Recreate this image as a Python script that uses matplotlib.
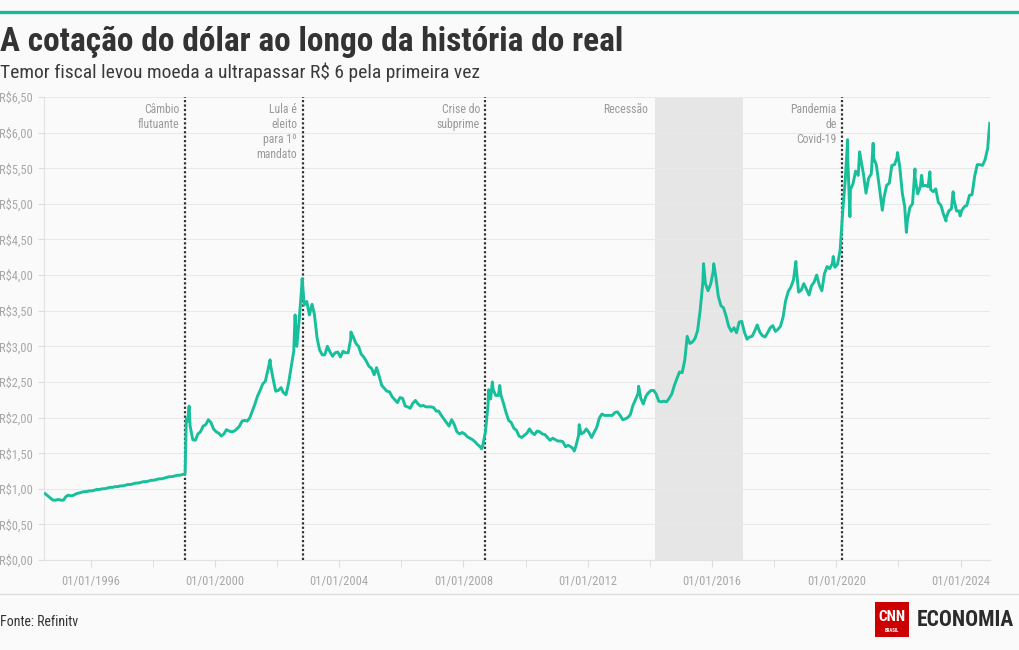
"""
Cotação do dólar (R$ por US$) ao longo da história do real, 1994-2024.
Valores lidos do gráfico original da CNN Brasil (fonte: Refinitiv).
"""

import matplotlib
matplotlib.use("Agg")
import matplotlib.pyplot as plt
import matplotlib.dates as mdates
from matplotlib import font_manager
from matplotlib.patches import Rectangle
import pandas as pd

OUT_FILE = "out.png"

# Cotação média de cada mês, jul/1994 a nov/2024 (R$)
RATE_MONTHLY = [
    0.93, 0.90, 0.87, 0.84, 0.84, 0.85,                                # 1994
    0.84, 0.84, 0.89, 0.91, 0.90, 0.91, 0.93, 0.94, 0.95, 0.96, 0.96, 0.97,  # 1995
    0.97, 0.98, 0.99, 0.99, 1.00, 1.00, 1.01, 1.02, 1.02, 1.03, 1.03, 1.04,  # 1996
    1.04, 1.05, 1.06, 1.06, 1.07, 1.08, 1.08, 1.09, 1.10, 1.10, 1.11, 1.12,  # 1997
    1.12, 1.13, 1.14, 1.14, 1.15, 1.16, 1.17, 1.17, 1.18, 1.19, 1.19, 1.20,  # 1998
    1.21, 1.95, 1.88, 1.69, 1.68, 1.77, 1.80, 1.88, 1.90, 1.97, 1.93, 1.84,  # 1999
    1.80, 1.78, 1.74, 1.77, 1.83, 1.81, 1.80, 1.81, 1.84, 1.88, 1.95, 1.96,  # 2000
    1.95, 2.00, 2.09, 2.19, 2.30, 2.38, 2.47, 2.51, 2.67, 2.74, 2.54, 2.37,  # 2001
    2.38, 2.42, 2.35, 2.32, 2.48, 2.71, 2.93, 3.11, 3.34, 3.80, 3.58, 3.63,  # 2002
    3.44, 3.59, 3.45, 3.12, 2.95, 2.88, 2.88, 3.00, 2.92, 2.86, 2.91, 2.92,  # 2003
    2.85, 2.93, 2.91, 2.91, 3.10, 3.13, 3.04, 3.00, 2.89, 2.85, 2.79, 2.72,  # 2004
    2.69, 2.60, 2.70, 2.58, 2.45, 2.41, 2.37, 2.36, 2.29, 2.25, 2.21, 2.28,  # 2005
    2.27, 2.16, 2.15, 2.13, 2.20, 2.24, 2.19, 2.16, 2.17, 2.15, 2.15, 2.15,  # 2006
    2.14, 2.09, 2.09, 2.03, 1.98, 1.93, 1.88, 1.97, 1.90, 1.80, 1.77, 1.79,  # 2007
    1.77, 1.73, 1.71, 1.69, 1.66, 1.62, 1.59, 1.61, 1.80, 2.17, 2.26, 2.39,  # 2008
    2.31, 2.31, 2.32, 2.20, 2.07, 1.96, 1.93, 1.85, 1.82, 1.74, 1.72, 1.75,  # 2009
    1.78, 1.84, 1.79, 1.76, 1.81, 1.80, 1.77, 1.76, 1.72, 1.68, 1.71, 1.69,  # 2010
    1.67, 1.67, 1.66, 1.59, 1.61, 1.59, 1.56, 1.60, 1.75, 1.77, 1.79, 1.84,  # 2011
    1.79, 1.72, 1.79, 1.86, 1.99, 2.05, 2.03, 2.03, 2.03, 2.03, 2.07, 2.08,  # 2012
    2.03, 1.97, 1.98, 2.00, 2.04, 2.17, 2.25, 2.34, 2.27, 2.19, 2.30, 2.35,  # 2013
    2.38, 2.38, 2.33, 2.23, 2.22, 2.23, 2.22, 2.27, 2.33, 2.45, 2.55, 2.64,  # 2014
    2.63, 2.81, 3.14, 3.04, 3.06, 3.11, 3.22, 3.51, 3.90, 3.88, 3.78, 3.87,  # 2015
    4.05, 3.97, 3.70, 3.57, 3.54, 3.42, 3.28, 3.21, 3.26, 3.19, 3.34, 3.35,  # 2016
    3.20, 3.10, 3.13, 3.14, 3.21, 3.30, 3.20, 3.15, 3.13, 3.19, 3.26, 3.29,  # 2017
    3.21, 3.24, 3.28, 3.41, 3.64, 3.77, 3.83, 3.93, 4.12, 3.76, 3.79, 3.88,  # 2018
    3.80, 3.72, 3.85, 3.90, 4.00, 3.86, 3.78, 4.02, 4.12, 4.09, 4.16, 4.11,  # 2019
    4.15, 4.35, 4.87, 5.33, 5.64, 5.20, 5.28, 5.46, 5.40, 5.63, 5.42, 5.15,  # 2020
    5.36, 5.42, 5.64, 5.55, 5.29, 5.00, 5.09, 5.26, 5.29, 5.54, 5.55, 5.65,  # 2021
    5.53, 5.15, 4.96, 4.76, 4.95, 5.00, 5.37, 5.14, 5.24, 5.25, 5.26, 5.24,  # 2022
    5.20, 5.17, 5.21, 5.02, 4.98, 4.85, 4.80, 4.90, 4.93, 5.06, 4.90, 4.90,  # 2023
    4.91, 4.96, 4.98, 5.12, 5.13, 5.39, 5.55, 5.55, 5.54, 5.62, 5.78,        # 2024
]

# Máximas e mínimas pontuais que se destacam no gráfico
PEAK_DATES = [
    "1999-01-29", "1999-03-03", "2001-10-10", "2002-07-31", "2002-08-20",
    "2002-10-22", "2004-05-17", "2008-08-01", "2008-10-22", "2008-12-05",
    "2009-03-02", "2011-07-26", "2011-09-22", "2013-08-21", "2015-09-23",
    "2016-01-21", "2018-09-13", "2019-11-26", "2020-05-13", "2020-06-09",
    "2020-10-01", "2021-03-09", "2021-06-25", "2021-12-20", "2022-04-04",
    "2022-07-14", "2022-09-30", "2023-01-05", "2023-07-14", "2023-10-05",
    "2023-12-27", "2024-11-29", "2024-12-10",
]
PEAK_VALUES = [
    1.98, 2.16, 2.81, 3.44, 3.00,
    3.95, 3.20, 1.56, 2.39, 2.50,
    2.45, 1.53, 1.90, 2.44, 4.16,
    4.16, 4.19, 4.26, 5.90, 4.82,
    5.73, 5.85, 4.91, 5.72, 4.60,
    5.49, 5.40, 5.45, 4.76, 5.17,
    4.83, 6.00, 6.13,
]

# Marcos históricos (linhas pontilhadas)
EVENT_DATES = ["1999-01-13", "2002-10-27", "2008-09-15", "2020-03-11"]
EVENT_LABELS = [
    "Câmbio\nflutuante",
    "Lula é\neleito\npara 1º\nmandato",
    "Crise do\nsubprime",
    "Pandemia\nde\nCovid-19",
]
RECESSION_START = "2014-03-01"
RECESSION_END = "2016-12-31"

Y_TICKS = [0, 0.5, 1, 1.5, 2, 2.5, 3, 3.5, 4, 4.5, 5, 5.5, 6, 6.5]

TEAL = "#17bf9b"
BG = "#fafafa"
GRID = "#e9e9e9"
TICK_GRAY = "#a8a8a8"
DARK = "#333333"


def pick_font(names):
    """Returns the first installed family among names."""
    available = {f.name for f in font_manager.fontManager.ttflist}
    for name in names:
        if name in available:
            return name
    return "DejaVu Sans"


def build_series():
    """Merges monthly values with the punctual extremes, ordered by date."""
    months = pd.date_range("1994-07-01", periods=len(RATE_MONTHLY), freq="MS")
    monthly = pd.Series(RATE_MONTHLY, index=months + pd.Timedelta(days=14))
    peaks = pd.Series(PEAK_VALUES, index=pd.to_datetime(PEAK_DATES))
    return pd.concat([monthly, peaks]).sort_index()


def brl(value):
    return "R$" + f"{value:.2f}".replace(".", ",")


def plot_chart(series):
    font = pick_font(["Roboto Condensed", "Liberation Sans Narrow", "Roboto"])
    plt.rcParams["font.family"] = [font, "DejaVu Sans"]

    fig = plt.figure(figsize=(10.2, 6.5), dpi=100, facecolor=BG)
    ax = fig.add_axes([44 / 1020, 90 / 650, 946 / 1020, 463 / 650])
    ax.set_facecolor(BG)

    # Header
    fig.add_artist(plt.Line2D([0, 1], [1 - 12 / 650] * 2, color="#1ab89c", lw=2.4))
    fig.text(0, 1 - 51 / 650, "A cotação do dólar ao longo da história do real",
             fontsize=24, fontweight="bold", color=DARK, va="baseline")
    fig.text(0, 1 - 78 / 650, "Temor fiscal levou moeda a ultrapassar R$ 6 pela primeira vez",
             fontsize=14, color="#3a3a3a", va="baseline")

    # Recession band and event lines
    ax.axvspan(pd.Timestamp(RECESSION_START), pd.Timestamp(RECESSION_END),
               color="#e6e6e6", lw=0, zorder=0)
    ax.annotate("Recessão", (pd.Timestamp(RECESSION_START), 6.5),
                xytext=(-5, -4), textcoords="offset points",
                ha="right", va="top", fontsize=8.5, color="#999999")
    for date, label in zip(EVENT_DATES, EVENT_LABELS):
        when = pd.Timestamp(date)
        ax.axvline(when, color="#333333", lw=1.6, ls=(0, (1, 1)), zorder=3)
        ax.annotate(label, (when, 6.5), xytext=(-4, -4), textcoords="offset points",
                    ha="right", va="top", fontsize=8.5, color="#999999",
                    linespacing=1.2, multialignment="right")

    ax.plot(series.index, series.values, color=TEAL, lw=2.1, zorder=4)

    # Axes
    ax.set_ylim(0, 6.5)
    ax.set_xlim(pd.Timestamp("1994-07-01"), pd.Timestamp("2024-12-12"))
    ax.set_yticks(Y_TICKS)
    ax.set_yticklabels([brl(v) for v in Y_TICKS])
    for label in ax.get_yticklabels():
        label.set_horizontalalignment("left")
    ax.tick_params(axis="y", length=4, color="#dddddd", labelsize=9,
                   labelcolor=TICK_GRAY, pad=28.5)
    ax.grid(axis="y", color=GRID, lw=0.8)
    ax.set_axisbelow(True)

    ax.xaxis.set_major_locator(mdates.YearLocator(4))
    ax.xaxis.set_minor_locator(mdates.YearLocator(2))
    ax.xaxis.set_major_formatter(mdates.DateFormatter("%d/%m/%Y"))
    ax.tick_params(axis="x", which="both", length=5, color="#dddddd",
                   labelsize=9, labelcolor=TICK_GRAY, pad=6)

    for side in ("top", "right"):
        ax.spines[side].set_visible(False)
    for side in ("left", "bottom"):
        ax.spines[side].set_color("#e2e2e2")
        ax.spines[side].set_linewidth(0.8)

    # Footer
    fig.add_artist(plt.Line2D([0, 1], [1 - 594 / 650] * 2, color="#dddddd", lw=1))
    fig.text(0, 1 - 626 / 650, "Fonte: Refinitv", fontsize=10, color=DARK, va="baseline")

    fig.add_artist(Rectangle((875 / 1020, 13 / 650), 34 / 1020, 35 / 650,
                             transform=fig.transFigure, color="#cc0000", lw=0))
    fig.text(892 / 1020, 1 - 617 / 650, "CNN", fontsize=11, fontweight="bold",
             color="white", ha="center", va="center")
    fig.text(892 / 1020, 1 - 630 / 650, "BRASIL", fontsize=3.5, fontweight="bold",
             color="white", ha="center", va="center")
    fig.text(917 / 1020, 1 - 620 / 650, "ECONOMIA", fontsize=15.5, fontweight="bold",
             color="#2b2b2b", va="center")

    fig.savefig(OUT_FILE, dpi=100, facecolor=BG)


def execute():
    plot_chart(build_series())


if __name__ == "__main__":
    execute()
